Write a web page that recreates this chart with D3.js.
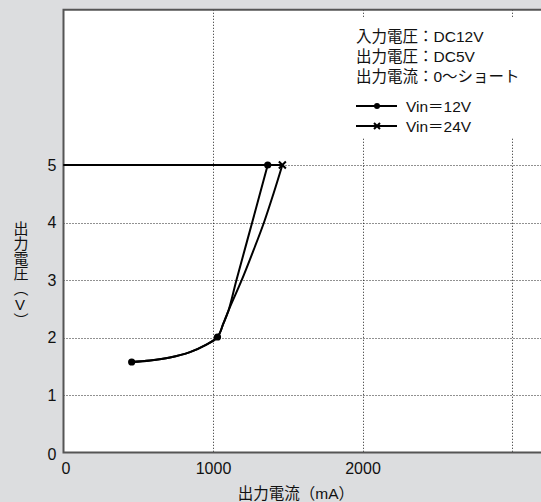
<!DOCTYPE html>
<html>
<head>
<meta charset="utf-8">
<script src="https://cdn.jsdelivr.net/npm/d3@7"></script>
<style>
  html, body { margin: 0; padding: 0; background: #dcdddf; }
  svg { display: block; }
  text { font-family: "Liberation Sans", Arial, "Noto Sans CJK JP", sans-serif; fill: #111; }
  .vert { writing-mode: vertical-rl; text-orientation: upright; }
</style>
</head>
<body>
<div id="chart"></div>
<script>
// ---- data ----
const xTickValues = [0, 1000, 2000];
const xGridValues = [1000, 2000, 3000];
const yTickValues = [0, 1, 2, 3, 4, 5];
const yGridValues = [1, 2, 3, 4, 5];

// Vin = 12V : path starting at left edge, out along 5 V, then drooping back
const vin12Current = [0, 1366, 1262, 1157, 1105, 1069, 1030, 946, 846, 712, 579, 456];
const vin12Voltage = [5, 5, 4.0, 3.0, 2.478, 2.24, 2.009, 1.863, 1.746, 1.652, 1.600, 1.574];
const vin12MarkerIdx = [1, 6, 11];

// Vin = 24V
const vin24Current = [0, 1464, 1406, 1341, 1270, 1194, 1105, 1069, 1030, 946, 846, 712, 579, 456];
const vin24Voltage = [5, 5, 4.513, 4.0, 3.51, 3.01, 2.478, 2.24, 2.009, 1.863, 1.746, 1.652, 1.600, 1.574];
const vin24MarkerIdx = [1];

const infoLines = ["入力電圧：DC12V", "出力電圧：DC5V", "出力電流：0〜ショート"];
const legendLabels = ["Vin＝12V", "Vin＝24V"];
const xTitle = "出力電流（mA）";
const yTitle = "出力電圧（V）";

// ---- layout ----
const W = 541, H = 502;
const svg = d3.select("#chart").append("svg").attr("width", W).attr("height", H);

const x = d3.scaleLinear().domain([0, 3200]).range([63.5, 63.5 + 3.2 * 149.5]);
const y = d3.scaleLinear().domain([0, 7.7]).range([452.5, 452.5 - 7.7 * 57.5]);

const plotL = x(0), plotR = W + 5, plotT = y(7.7), plotB = y(0);

// plot background
svg.append("rect").attr("x", plotL).attr("y", plotT)
  .attr("width", plotR - plotL).attr("height", plotB - plotT).attr("fill", "#fff");

// grid
const grid = svg.append("g").attr("stroke", "#222").attr("stroke-width", 1).attr("stroke-dasharray", "1,2");
grid.selectAll("line.v").data(xGridValues).join("line")
  .attr("x1", d => Math.round(x(d)) + 0.5).attr("x2", d => Math.round(x(d)) + 0.5)
  .attr("y1", plotT).attr("y2", plotB);
grid.selectAll("line.h").data(yGridValues).join("line")
  .attr("y1", d => Math.round(y(d)) + 0.5).attr("y2", d => Math.round(y(d)) + 0.5)
  .attr("x1", plotL).attr("x2", plotR);

// legend/info box (white, hides grid)
svg.append("rect").attr("x", 342).attr("y", 17).attr("width", W - 342 + 5).attr("height", 121).attr("fill", "#fff");

// frame: left, bottom, top
svg.append("path")
  .attr("d", `M${plotR},${plotT}H${plotL}V${plotB}H${plotR}`)
  .attr("fill", "none").attr("stroke", "#555").attr("stroke-width", 2);

// axes via d3 (labels only)
const xAxis = d3.axisBottom(x).tickValues(xTickValues).tickSize(0).tickPadding(10).tickFormat(d3.format("d"));
const gx = svg.append("g").attr("transform", `translate(0,${plotB})`).call(xAxis);
gx.select(".domain").remove();
gx.selectAll("text").attr("font-size", 16).attr("fill", "#111")
  .attr("font-family", "'Liberation Sans', Arial, sans-serif");
gx.selectAll(".tick").filter(d => d === 0).select("text").attr("dx", 2);

const yAxis = d3.axisLeft(y).tickValues(yTickValues).tickSize(0).tickPadding(7).tickFormat(d3.format("d"));
const gy = svg.append("g").attr("transform", `translate(${plotL},0)`).call(yAxis);
gy.select(".domain").remove();
gy.selectAll("text").attr("font-size", 16).attr("fill", "#111")
  .attr("font-family", "'Liberation Sans', Arial, sans-serif");
gy.selectAll(".tick").filter(d => d === 0).select("text").attr("dy", "0.45em");

// titles
svg.append("text").attr("x", 296).attr("y", 499).attr("text-anchor", "middle")
  .attr("font-size", 15.5).text(xTitle);

svg.append("text").attr("class", "vert").attr("x", 20).attr("y", 221)
  .attr("font-size", 15).text(yTitle);

// ---- series ----
function zipPts(xs, ys) { return xs.map((v, i) => [v, ys[i]]); }
const s12 = zipPts(vin12Current, vin12Voltage);
const s24 = zipPts(vin24Current, vin24Voltage);

const straight = d3.line().x(d => x(d[0])).y(d => y(d[1]));
const smooth = d3.line().x(d => x(d[0])).y(d => y(d[1])).curve(d3.curveCatmullRom.alpha(0.5));

const linesG = svg.append("g").attr("fill", "none").attr("stroke", "#000").attr("stroke-width", 2)
  .attr("stroke-linejoin", "round");
[s24, s12].forEach(s => {
  linesG.append("path").attr("d", straight(s.slice(0, 2)));
  linesG.append("path").attr("d", smooth(s.slice(1)));
});

// markers
svg.append("g").selectAll("circle").data(vin12MarkerIdx.map(i => s12[i])).join("circle")
  .attr("cx", d => x(d[0])).attr("cy", d => y(d[1])).attr("r", 3.6).attr("fill", "#000");

function cross(g, cx, cy, r) {
  g.append("path").attr("d", `M${cx - r},${cy - r}L${cx + r},${cy + r}M${cx - r},${cy + r}L${cx + r},${cy - r}`)
    .attr("stroke", "#000").attr("stroke-width", 2).attr("fill", "none");
}
const crossG = svg.append("g");
vin24MarkerIdx.map(i => s24[i]).forEach(d => cross(crossG, x(d[0]), y(d[1]), 3.5));

// ---- info & legend ----
const info = svg.append("g");
infoLines.forEach((t, i) => {
  info.append("text").attr("x", 356).attr("y", 42 + i * 20).attr("font-size", 15.5).text(t);
});
const legendY = [106, 126];
legendLabels.forEach((t, i) => {
  const ly = legendY[i];
  info.append("line").attr("x1", 356).attr("x2", 397).attr("y1", ly).attr("y2", ly)
    .attr("stroke", "#000").attr("stroke-width", 2);
  if (i === 0) {
    info.append("circle").attr("cx", 377).attr("cy", ly).attr("r", 3).attr("fill", "#000");
  } else {
    cross(info, 377, ly, 3);
  }
  info.append("text").attr("x", 406).attr("y", ly).attr("dominant-baseline", "central")
    .attr("font-size", 15.5).text(t);
});
</script>
</body>
</html>
